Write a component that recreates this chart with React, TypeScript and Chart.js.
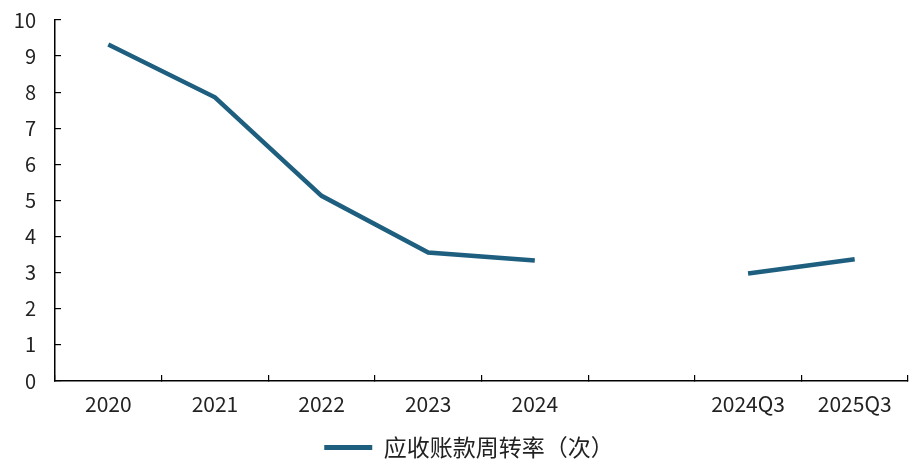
import React, { useEffect, useRef } from "react";
import { Chart, registerables } from "chart.js";

Chart.register(...registerables);

const categories = ["2020", "2021", "2022", "2023", "2024", "", "2024Q3", "2025Q3"];
const turnover: (number | null)[] = [9.32, 7.86, 5.13, 3.56, 3.34, null, 2.98, 3.37];
const seriesName = "应收账款周转率（次）";
const yTicks = [0, 1, 2, 3, 4, 5, 6, 7, 8, 9, 10];

const FONT = "'Noto Sans CJK SC', 'Noto Sans', sans-serif";
const LINE_COLOR = "#1e5f80";

const legendShift = {
  id: "legendShift",
  afterLayout(c: any) {
    const l = c.legend;
    if (l) {
      l.left += 15;
      l.right += 15;
    }
  },
};

export default function App() {
  const ref = useRef<HTMLCanvasElement | null>(null);
  useEffect(() => {
    document.body.style.margin = "0";
    const canvas = ref.current!;
    const chart = new Chart(canvas, {
      type: "line",
      data: {
        labels: categories,
        datasets: [
          {
            label: seriesName,
            data: turnover,
            borderColor: LINE_COLOR,
            backgroundColor: LINE_COLOR,
            borderWidth: 4.5,
            pointRadius: 0,
            spanGaps: false,
            tension: 0,
          },
        ],
      },
      plugins: [legendShift],
      options: {
        animation: false,
        responsive: false,
        maintainAspectRatio: false,
        layout: { padding: { top: 20, right: 12, left: 0, bottom: -7 } },
        plugins: {
          tooltip: { enabled: false },
          legend: {
            position: "bottom",
            labels: {
              font: { family: FONT, size: 23 },
              color: "#222",
              boxWidth: 48,
              boxHeight: 5,
              padding: 0,
              generateLabels: () => [
                {
                  text: seriesName,
                  fillStyle: LINE_COLOR,
                  strokeStyle: LINE_COLOR,
                  lineWidth: 0,
                  datasetIndex: 0,
                  fontColor: "#222",
                },
              ],
            },
          },
        },
        scales: {
          x: {
            offset: true,
            grid: {
              offset: true,
              drawOnChartArea: false,
              drawTicks: true,
              tickLength: -6,
              color: "#000",
              lineWidth: 1.2,
            },
            border: { display: true, color: "#000", width: 1.5 },
            ticks: {
              font: { family: FONT, size: 21 },
              color: "#222",
              padding: 16,
              maxRotation: 0,
              autoSkip: false,
            },
            afterFit: (s: any) => {
              s.height = 55;
            },
          },
          y: {
            min: 0,
            max: 10,
            afterBuildTicks: (s: any) => {
              s.ticks = yTicks.map((v) => ({ value: v }));
            },
            grid: {
              drawOnChartArea: false,
              drawTicks: true,
              tickLength: -6,
              color: "#000",
              lineWidth: 1.2,
            },
            border: { display: true, color: "#000", width: 1.5 },
            ticks: {
              font: { family: FONT, size: 20 },
              color: "#222",
              padding: 25,
            },
            afterFit: (s: any) => {
              s.width = 55;
              s.paddingTop = 0;
              s.paddingBottom = 0;
            },
          },
        },
      },
    });
    return () => chart.destroy();
  }, []);
  return <canvas ref={ref} width={920} height={462} style={{ display: "block" }} />;
}
